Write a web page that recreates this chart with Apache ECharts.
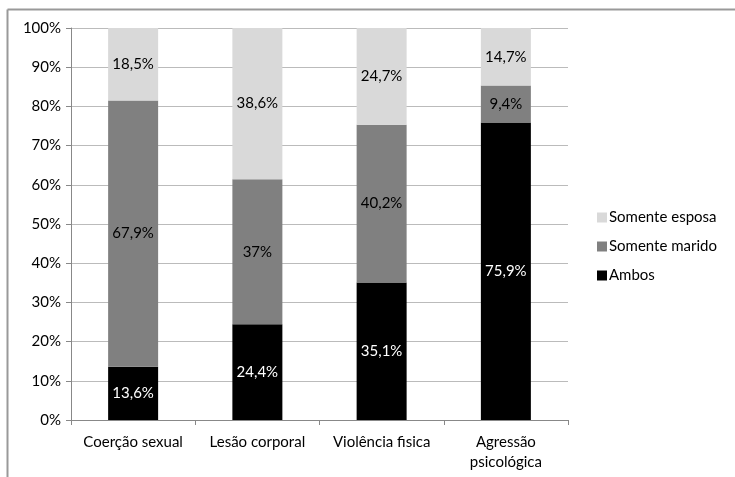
<!DOCTYPE html>
<html>
<head>
    <meta charset="utf-8">
    <title>Violência conjugal</title>
    <script src="https://cdn.jsdelivr.net/npm/echarts@6/dist/echarts.min.js"></script>
</head>
<style>
  body { margin: 0; background: #fff; }
</style>
<body>
    <div id="main" style="width: 735px;height:477px;"></div>
    <script type="text/javascript">
    // dados
    var categorias = ['Coerção sexual', 'Lesão corporal', 'Violência fisica', 'Agressão\npsicológica'];
    var ambos = [13.6, 24.4, 35.1, 75.9];
    var somenteMarido = [67.9, 37, 40.2, 9.4];
    var somenteEsposa = [18.5, 38.6, 24.7, 14.7];
    var yTicks = [0, 10, 20, 30, 40, 50, 60, 70, 80, 90, 100];

    var fonte = 'Lato, "Open Sans", sans-serif';

    function rotulo(cor) {
        return {
            show: true,
            position: 'inside',
            color: cor,
            fontSize: 15,
            fontFamily: fonte,
            formatter: function (p) {
                return String(p.value).replace('.', ',') + '%';
            }
        };
    }

    var myChart = echarts.init(document.getElementById('main'));
    var option = {
        animation: false,
        backgroundColor: '#fff',
        graphic: [
            { type: 'line', shape: { x1: 7.5, y1: 9.5, x2: 735, y2: 9.5 }, style: { stroke: '#999', lineWidth: 2 } },
            { type: 'line', shape: { x1: 7.5, y1: 9.5, x2: 7.5, y2: 477 }, style: { stroke: '#999', lineWidth: 2 } }
        ],
        grid: { left: 71, right: 167, top: 28, bottom: 57 },
        legend: {
            orient: 'vertical',
            left: 592,
            top: 205,
            itemWidth: 10,
            itemHeight: 10,
            itemGap: 14,
            icon: 'rect',
            textStyle: { fontSize: 15, fontFamily: fonte, color: '#000', padding: [0, 0, 0, -3] },
            data: ['Somente esposa', 'Somente marido', 'Ambos']
        },
        xAxis: {
            type: 'category',
            data: categorias,
            axisLine: { lineStyle: { color: '#888' } },
            axisTick: { show: true, length: 5, lineStyle: { color: '#888' } },
            axisLabel: { color: '#000', fontSize: 15, fontFamily: fonte, margin: 12, lineHeight: 20, interval: 0 }
        },
        yAxis: {
            type: 'value',
            min: 0,
            max: 100,
            interval: 10,
            axisLine: { show: true, lineStyle: { color: '#888' } },
            axisTick: { show: true, length: 5, lineStyle: { color: '#888' } },
            splitLine: { lineStyle: { color: '#bbb' } },
            axisLabel: {
                color: '#000', fontSize: 15, fontFamily: fonte, margin: 10,
                formatter: function (v) { return yTicks.indexOf(v) >= 0 ? v + '%' : ''; }
            }
        },
        series: [
            { name: 'Ambos', type: 'bar', stack: 'total', barWidth: 50, data: ambos,
              itemStyle: { color: '#000' }, label: rotulo('#fff') },
            { name: 'Somente marido', type: 'bar', stack: 'total', data: somenteMarido,
              itemStyle: { color: '#808080' }, label: rotulo('#000') },
            { name: 'Somente esposa', type: 'bar', stack: 'total', data: somenteEsposa,
              itemStyle: { color: '#d9d9d9' }, label: rotulo('#000') }
        ]
    };
    myChart.setOption(option);
    </script>
</body>
</html>
